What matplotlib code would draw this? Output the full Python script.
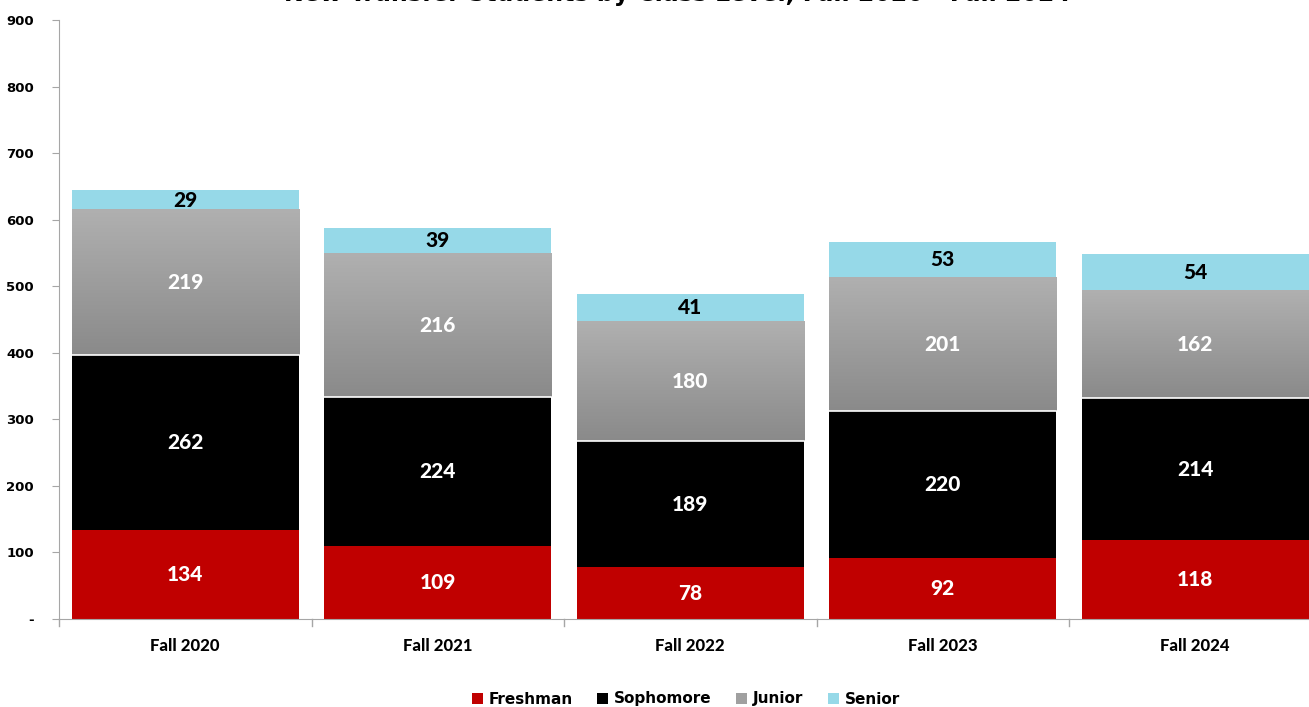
import matplotlib
matplotlib.use("Agg")
import matplotlib.pyplot as plt
import numpy as np
from matplotlib.colors import LinearSegmentedColormap

categories = ["Fall 2020", "Fall 2021", "Fall 2022", "Fall 2023", "Fall 2024"]
freshman = [134, 109, 78, 92, 118]
sophomore = [262, 224, 189, 220, 214]
junior = [219, 216, 180, 201, 162]
senior = [29, 39, 41, 53, 54]
series_names = ["Freshman", "Sophomore", "Junior", "Senior"]
yticks = [0, 100, 200, 300, 400, 500, 600, 700, 800, 900]
ytick_labels = ["-", "100", "200", "300", "400", "500", "600", "700", "800", "900"]
title = "New Transfer Students by Class Level, Fall 2020 - Fall 2024"

W, H = 1309, 707
fig = plt.figure(figsize=(W / 100, H / 100), dpi=100)
left, right = 59, 59 + 252.5 * 5
bottom, top = 619, 20
ax = fig.add_axes([left / W, 1 - bottom / H, (right - left) / W, (bottom - top) / H])

x = np.arange(len(categories))
width = 0.9
red = "#c00000"
black = "#000000"
gray = "#a0a0a0"
blue = "#96d9e8"

fr = np.array(freshman)
so = np.array(sophomore)
ju = np.array(junior)
se = np.array(senior)

b1 = ax.bar(x, fr, width, color=red, label=series_names[0], zorder=2)
b2 = ax.bar(x, so, width, bottom=fr, color=black, label=series_names[1], zorder=2)
b3 = ax.bar(x, ju, width, bottom=fr + so, color=gray, label=series_names[2], zorder=2)
b4 = ax.bar(x, se, width, bottom=fr + so + ju, color=blue, label=series_names[3], zorder=2)

# gradient for junior bars
grad = np.linspace(0, 1, 256).reshape(-1, 1)
cmap = LinearSegmentedColormap.from_list("g", ["#8a8a8a", "#b0b0b0"])
for rect in b3:
    x0 = rect.get_x()
    y0 = rect.get_y()
    ax.imshow(grad, extent=[x0, x0 + rect.get_width(), y0, y0 + rect.get_height()],
              origin="lower", cmap=cmap, aspect="auto", zorder=2.5)
    ax.plot([x0, x0 + rect.get_width()], [y0, y0], color="white", lw=1.2, zorder=3)

label_font = dict(family=["Lato", "DejaVu Sans"], fontweight=900, fontsize=15)
for bars, vals, col in [(b1, fr, "white"), (b2, so, "white"), (b3, ju, "white"), (b4, se, "black")]:
    for rect, v in zip(bars, vals):
        ax.text(rect.get_x() + rect.get_width() / 2, rect.get_y() + rect.get_height() / 2,
                str(v), ha="center", va="center", color=col, zorder=4, **label_font)

ax.set_xlim(-0.5, len(categories) - 0.5)
ax.set_ylim(0, 900)
ax.set_yticks(yticks)
ax.set_yticklabels(ytick_labels)
ax.set_xticks(x)
ax.set_xticklabels(categories, fontdict=dict(family=["Lato", "DejaVu Sans"], fontweight=900, fontsize=12))
ax.tick_params(axis="x", length=0, pad=14)
for lab in ax.get_yticklabels():
    lab.set_fontweight("bold")
    lab.set_fontsize(9.5)
ax.tick_params(axis="y", length=5, color="#a6a6a6", pad=13)
# separators on x axis
for b in np.arange(-0.5, len(categories) + 0.5, 1.0):
    ax.plot([b, b], [0, -10], color="#a6a6a6", lw=1, clip_on=False, zorder=1)

for s in ["top", "right"]:
    ax.spines[s].set_visible(False)
for s in ["left", "bottom"]:
    ax.spines[s].set_color("#a6a6a6")
ax.patch.set_visible(False)

fig.text(677 / W, 1 - 0.8 / H, title, ha="center", va="baseline", fontsize=17,
         fontweight="bold", family=["DejaVu Sans"])

handles = [b1, b2, b3, b4]
leg = fig.legend(handles, series_names, loc="center", bbox_to_anchor=(686 / W, 1 - 699 / H),
                 ncol=4, frameon=False, handlelength=0.7, handleheight=0.7,
                 handletextpad=0.4, columnspacing=1.6,
                 prop=dict(weight="bold", size=11, family="DejaVu Sans"))
leg.legend_handles[2].set_facecolor("#a0a0a0")

fig.savefig("out.png", dpi=100)
